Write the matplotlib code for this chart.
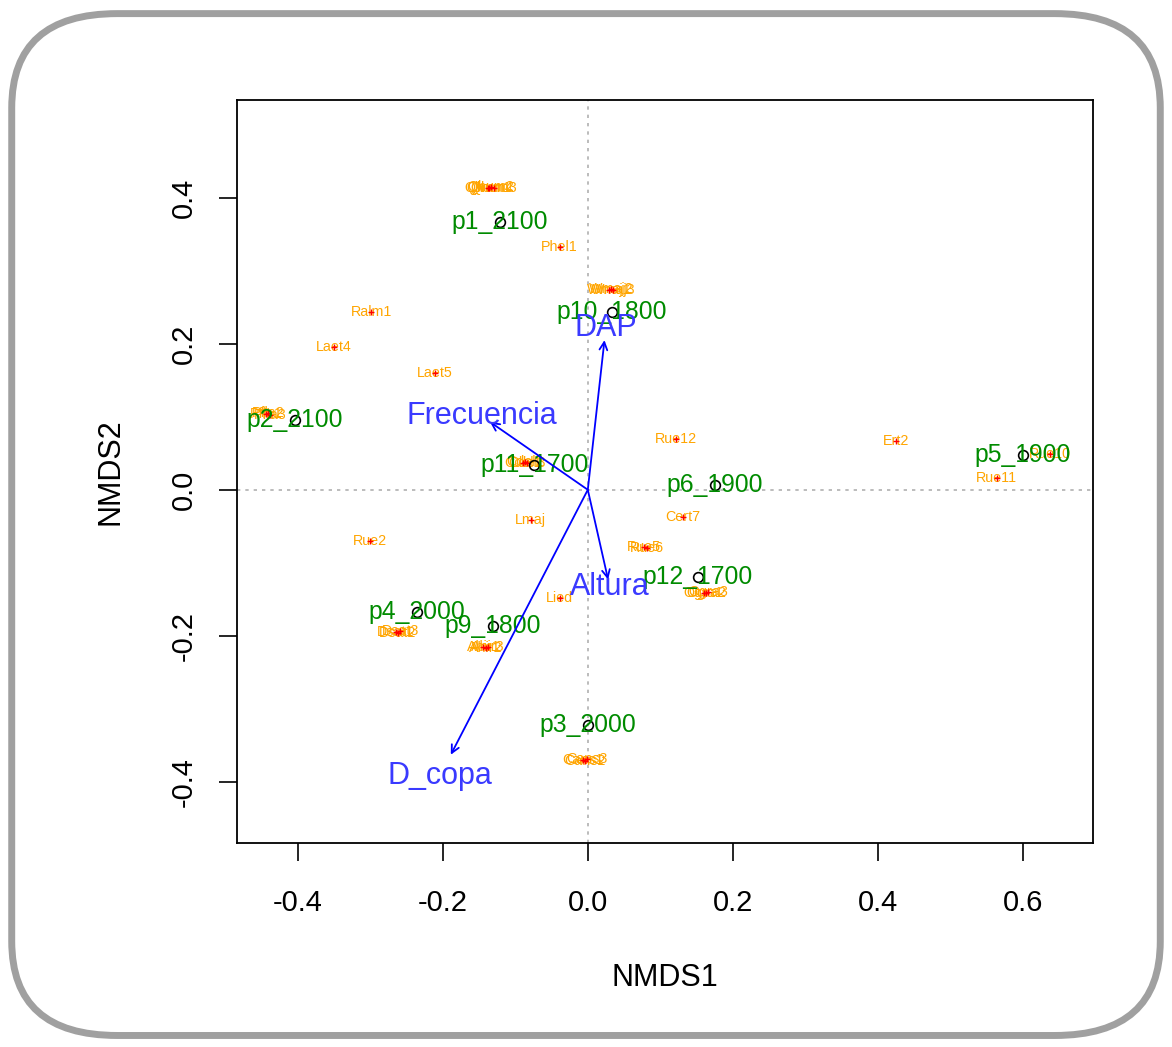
import matplotlib
matplotlib.use("Agg")
import matplotlib.pyplot as plt
from matplotlib.patches import FancyBboxPatch
import numpy as np

plt.rcParams['font.family'] = ['Liberation Sans', 'DejaVu Sans']

# site scores (NMDS1, NMDS2)
sites = ['p1_2100', 'p10_1800', 'p2_2100', 'p11_1700', 'p6_1900', 'p12_1700',
         'p5_1900', 'p4_2000', 'p9_1800', 'p3_2000']
site_x = [-0.121, 0.033, -0.404, -0.074, 0.175, 0.152, 0.600, -0.236, -0.131, 0.000]
site_y = [0.367, 0.244, 0.096, 0.034, 0.007, -0.119, 0.048, -0.168, -0.186, -0.322]

# species scores
species = ['Phel1', 'Ralm1', 'Laet4', 'Laet5', 'Rue12', 'Ert2', 'Rue11', 'Rue10',
           'Cert7', 'Lmaj', 'Rue2', 'Lied', 'Rue5', 'Rue6',
           'Qhum1', 'Qhum2', 'Qhum3', 'Qhum4',
           'Wmaj1', 'Wmaj2', 'Wmaj3',
           'Pfla1', 'Pfla2', 'Pfla3',
           'Cdel1', 'Cdel2', 'Cdel3',
           'Dsat1', 'Dsat2', 'Dsat3',
           'Ahir1', 'Ahir2', 'Ahir3',
           'Cans1', 'Cans2', 'Cans3',
           'Ogra1', 'Ogra2', 'Ogra3']
sp_x = [-0.039, -0.299, -0.350, -0.211, 0.121, 0.425, 0.564, 0.637,
        0.131, -0.079, -0.301, -0.039, 0.078, 0.082,
        -0.138, -0.134, -0.130, -0.136,
        0.029, 0.032, 0.035,
        -0.444, -0.441, -0.438,
        -0.090, -0.087, -0.084,
        -0.265, -0.262, -0.259,
        -0.144, -0.141, -0.138,
        -0.007, -0.004, -0.001,
        0.160, 0.163, 0.166]
sp_y = [0.332, 0.244, 0.196, 0.160, 0.070, 0.067, 0.016, 0.049,
        -0.037, -0.042, -0.070, -0.148, -0.079, -0.080,
        0.414, 0.415, 0.413, 0.414,
        0.274, 0.275, 0.273,
        0.104, 0.105, 0.103,
        0.037, 0.038, 0.036,
        -0.195, -0.196, -0.194,
        -0.216, -0.217, -0.215,
        -0.370, -0.371, -0.369,
        -0.141, -0.142, -0.140]

# envfit vectors
env = ['DAP', 'Frecuencia', 'Altura', 'D_copa']
env_x = [0.023, -0.135, 0.028, -0.189]
env_y = [0.205, 0.093, -0.123, -0.363]

fig = plt.figure(figsize=(11.72, 10.47), dpi=100)
fig.patch.set_facecolor('white')
card = FancyBboxPatch((0.010, 0.011), 0.980, 0.976,
                      boxstyle="round,pad=0,rounding_size=0.09",
                      transform=fig.transFigure, facecolor='white',
                      edgecolor='#a0a0a0', linewidth=5, zorder=-5)
fig.patches.append(card)

ax = fig.add_axes([0.2022, 0.1948, 0.7304, 0.7097])
ax.set_zorder(2)
ax.set_xlim(-0.484, 0.697)
ax.set_ylim(-0.484, 0.534)

ax.axhline(0, color='#b0b0b0', ls=(0, (2, 3)), lw=1.2, zorder=1)
ax.axvline(0, color='#b0b0b0', ls=(0, (2, 3)), lw=1.2, zorder=1)

# species
for name, x, y in zip(species, sp_x, sp_y):
    ax.text(x, y, name, color='#FFA500', fontsize=10.3, ha='center', va='center', zorder=3)
ax.plot(sp_x, sp_y, '+', color='red', ms=5, mew=1, zorder=4)

# sites
ax.plot(site_x, site_y, 'o', mfc='none', mec='black', ms=7, mew=1.2, zorder=5)
for name, x, y in zip(sites, site_x, site_y):
    ax.text(x, y, name, color='#008B00', fontsize=17.8, ha='center', va='center', zorder=6)

# envfit arrows
for name, x, y in zip(env, env_x, env_y):
    ax.annotate('', xy=(x, y), xytext=(0, 0),
                arrowprops=dict(arrowstyle='->', color='blue', lw=1.3,
                                mutation_scale=14, shrinkA=0, shrinkB=0), zorder=7)
    ax.text(x * 1.08, y * 1.08, name, color='#3a3aff', fontsize=22, ha='center', va='center',
            zorder=8)

ax.set_xticks([-0.4, -0.2, 0.0, 0.2, 0.4, 0.6])
ax.set_yticks([-0.4, -0.2, 0.0, 0.2, 0.4])
ax.set_xticklabels(['-0.4', '-0.2', '0.0', '0.2', '0.4', '0.6'])
ax.set_yticklabels(['-0.4', '-0.2', '0.0', '0.2', '0.4'], rotation=90, va='center')
ax.tick_params(direction='out', length=13, width=1.2, labelsize=21)
ax.tick_params(axis='x', pad=20)
ax.tick_params(axis='y', pad=15)
for s in ax.spines.values():
    s.set_linewidth(1.3)
ax.set_xlabel('NMDS1', fontsize=22, labelpad=33)
ax.set_ylabel('NMDS2', fontsize=22, labelpad=32)

fig.savefig('out.png', dpi=100)
